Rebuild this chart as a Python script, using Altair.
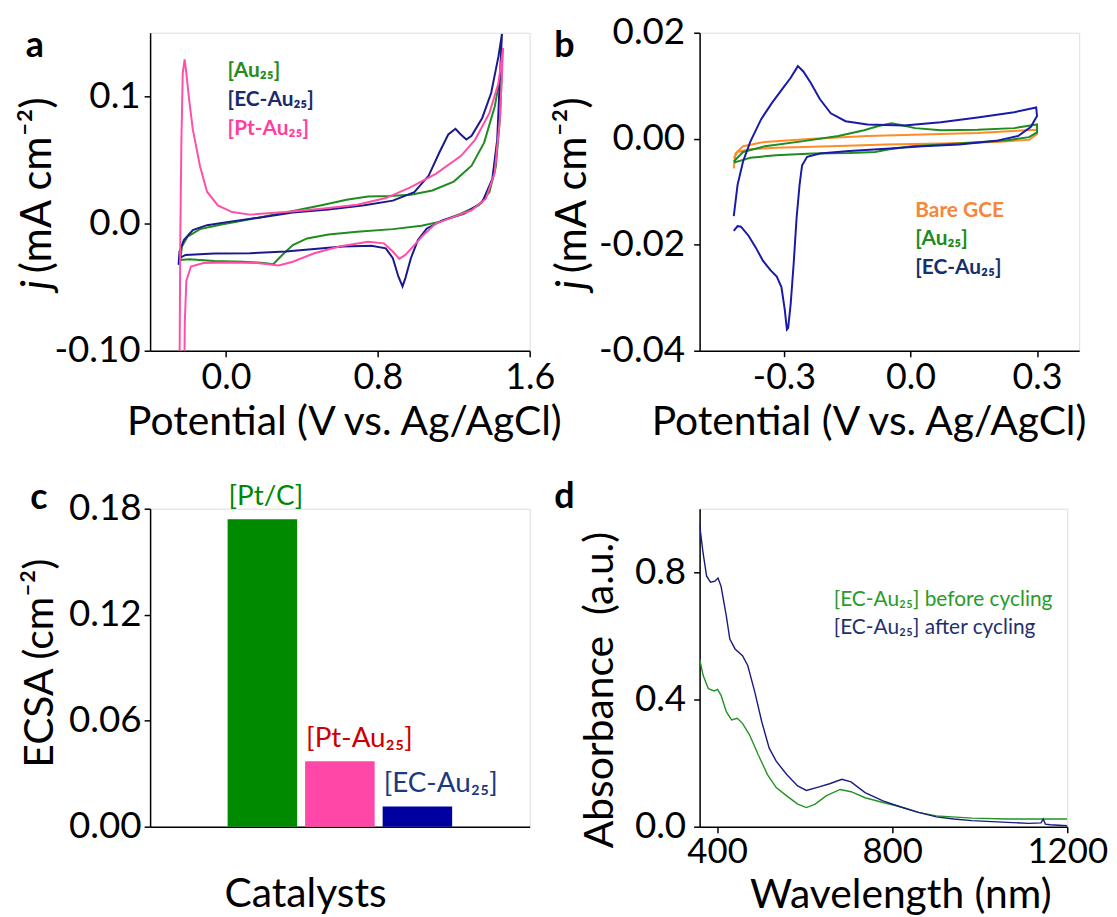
import altair as alt
import pandas as pd

FONT = "Lato"

# ---------------- Panel a : CV in wide window ----------------
a_series = ["[Au₂₅]", "[EC-Au₂₅]", "[Pt-Au₂₅]"]
a_colors = ["#1e8c1e", "#1a1a8c", "#ff4fa8"]
a_legend_colors = ["#2a8a22", "#1b2a6b", "#ff3fa0"]

a_au25_v = [-0.241, -0.232, -0.203, -0.137, -0.024, 0.126, 0.314, 0.503, 0.635, 0.748, 0.861, 0.974,
            1.087, 1.2, 1.294, 1.36, 1.416, 1.454, 1.444, 1.422, 1.388, 1.331, 1.237, 1.124, 1.03,
            0.879, 0.691, 0.54, 0.427, 0.352, 0.296, 0.249, 0.2, 0.089, -0.062, -0.194, -0.241]
a_au25_j = [-0.0286, -0.018, -0.0104, -0.0044, -0.0008, 0.0034, 0.0086, 0.0143, 0.0187, 0.0213, 0.0216,
            0.0226, 0.026, 0.033, 0.0455, 0.0636, 0.092, 0.123, 0.084, 0.045, 0.0247, 0.0143, 0.0078,
            0.0013, -0.0018, -0.0044, -0.0065, -0.0086, -0.0117, -0.0169, -0.0247, -0.032, -0.031,
            -0.030, -0.0294, -0.028, -0.0286]

a_ec_v = [-0.25, -0.245, -0.222, -0.175, -0.1, 0.013, 0.164, 0.352, 0.54, 0.729, 0.879, 0.992, 1.068,
          1.124, 1.171, 1.209, 1.237, 1.266, 1.294, 1.35, 1.397, 1.435, 1.454, 1.444, 1.429, 1.403,
          1.35, 1.256, 1.143, 1.058, 1.011, 0.974, 0.945, 0.93, 0.908, 0.879, 0.842, 0.766, 0.616,
          0.465, 0.314, 0.126, -0.062, -0.213, -0.241, -0.25]
a_ec_j = [-0.0325, -0.022, -0.013, -0.0052, -0.0013, 0.0013, 0.0044, 0.0086, 0.011, 0.0143, 0.018,
          0.0247, 0.0377, 0.0558, 0.070, 0.0745, 0.070, 0.066, 0.069, 0.083, 0.1026, 0.131, 0.149,
          0.118, 0.066, 0.035, 0.0169, 0.0078, 0.0026, -0.0039, -0.013, -0.0273, -0.0429, -0.0494,
          -0.0416, -0.0273, -0.0195, -0.0174, -0.018, -0.020, -0.022, -0.0234, -0.0236, -0.0247,
          -0.0268, -0.030]

a_pt_v = [-0.245, -0.241, -0.235, -0.228, -0.218, -0.209, -0.194, -0.175, -0.137, -0.1, -0.043, 0.032,
          0.126, 0.314, 0.503, 0.691, 0.842, 0.974, 1.105, 1.237, 1.313, 1.388, 1.435, 1.46, 1.444,
          1.416, 1.369, 1.294, 1.2, 1.105, 1.04, 0.992, 0.945, 0.913, 0.879, 0.832, 0.748, 0.597,
          0.465, 0.352, 0.277, 0.164, 0.013, -0.119, -0.185, -0.209, -0.217, -0.22]
a_pt_j = [-0.12, -0.012, 0.066, 0.118, 0.129, 0.118, 0.097, 0.074, 0.045, 0.025, 0.0143, 0.009,
          0.007, 0.009, 0.0117, 0.0148, 0.020, 0.0286, 0.039, 0.053, 0.066, 0.087, 0.110, 0.138,
          0.084, 0.040, 0.0195, 0.0104, 0.0052, 0.0, -0.009, -0.017, -0.0247, -0.0278, -0.022,
          -0.0156, -0.0143, -0.018, -0.0234, -0.030, -0.033, -0.031, -0.0307, -0.031, -0.0338,
          -0.045, -0.077, -0.12]

# ---------------- Panel b : CV in narrow window ----------------
b_series = ["Bare GCE", "[Au₂₅]", "[EC-Au₂₅]"]
b_colors = ["#ff8c28", "#1e8c1e", "#1a1aa8"]
b_legend_colors = ["#f5873c", "#208a20", "#15306b"]

b_gce_v = [-0.419, -0.415, -0.397, -0.345, -0.232, -0.102, 0.029, 0.159, 0.3,
           0.3, 0.281, 0.203, 0.072, -0.058, -0.189, -0.319, -0.38, -0.41, -0.419]
b_gce_j = [-0.0056, -0.0028, -0.0014, -0.0006, 0.0, 0.0005, 0.0008, 0.0011, 0.0017,
           0.0009, -0.0002, -0.0006, -0.0009, -0.0011, -0.0014, -0.0017, -0.002, -0.0025, -0.0037]

b_au25_v = [-0.419, -0.397, -0.345, -0.258, -0.171, -0.11, -0.076, -0.045, -0.023, 0.011, 0.072,
            0.159, 0.246, 0.3, 0.3, 0.281, 0.229, 0.116, 0.003, -0.05, -0.084, -0.145, -0.232,
            -0.319, -0.38, -0.419]
b_au25_j = [-0.0043, -0.0025, -0.0014, -0.0005, 0.0005, 0.0016, 0.0024, 0.0029, 0.0026, 0.002,
            0.0016, 0.0017, 0.002, 0.0027, 0.0012, 0.0003, -0.0003, -0.0009, -0.0014, -0.002,
            -0.0025, -0.0027, -0.0028, -0.0031, -0.0036, -0.0045]

b_ec_v = [-0.419, -0.410, -0.397, -0.38, -0.354, -0.328, -0.302, -0.284, -0.267, -0.254, -0.237,
          -0.215, -0.189, -0.154, -0.102, -0.015, 0.072, 0.159, 0.246, 0.298, 0.3, 0.285, 0.255,
          0.203, 0.116, 0.029, -0.058, -0.145, -0.215, -0.245, -0.257, -0.263, -0.27, -0.277,
          -0.284, -0.29, -0.293, -0.298, -0.306, -0.317, -0.332, -0.35, -0.367, -0.384, -0.402,
          -0.41, -0.419]
b_ec_j = [-0.0146, -0.0087, -0.0043, -0.0006, 0.0037, 0.0068, 0.0096, 0.0115, 0.0137, 0.0127,
          0.0106, 0.0075, 0.0048, 0.0033, 0.0027, 0.0025, 0.0031, 0.0040, 0.0050, 0.0059, 0.0043,
          0.0022, 0.0005, -0.0004, -0.0011, -0.0014, -0.0019, -0.0023, -0.0028, -0.0034, -0.005,
          -0.0087, -0.0149, -0.0236, -0.0311, -0.0357, -0.036, -0.0323, -0.028, -0.026, -0.0248,
          -0.023, -0.0205, -0.0183, -0.0166, -0.0165, -0.0174]

# ---------------- Panel c : ECSA bars ----------------
c_cats = ["[Pt/C]", "[Pt-Au₂₅]", "[EC-Au₂₅]"]
c_vals = [0.174, 0.037, 0.0115]
c_bar_colors = ["#008a00", "#ff47a8", "#0000a0"]
c_label_colors = ["#008800", "#cc0000", "#1a3a80"]

# ---------------- Panel d : UV-vis ----------------
d_series = ["[EC-Au₂₅] before cycling", "[EC-Au₂₅] after cycling"]
d_colors = ["#239323", "#1a1a80"]
d_legend_colors = ["#2a9a2a", "#1f3070"]

d_after_wl = [360, 368, 376, 385, 395, 402, 409, 421, 429, 441, 458, 470, 486, 502, 519, 535, 559,
              584, 604, 633, 657, 685, 706, 738, 779, 820, 860, 901, 941, 982, 1063, 1112, 1140,
              1145, 1150, 1161, 1200]
d_after_a = [0.95, 0.86, 0.788, 0.769, 0.772, 0.782, 0.756, 0.663, 0.59, 0.559, 0.538, 0.507,
             0.424, 0.33, 0.247, 0.206, 0.164, 0.128, 0.114, 0.125, 0.135, 0.149, 0.141, 0.107,
             0.081, 0.062, 0.045, 0.031, 0.024, 0.019, 0.0135, 0.0104, 0.012, 0.024, 0.008, 0.006,
             0.003]
d_before_wl = [360, 368, 380, 393, 401, 409, 421, 433, 446, 458, 474, 494, 515, 535, 559, 584, 604,
               624, 649, 681, 706, 738, 779, 820, 860, 901, 982, 1063, 1200]
d_before_a = [0.528, 0.476, 0.434, 0.427, 0.432, 0.413, 0.362, 0.336, 0.341, 0.325, 0.289, 0.226,
              0.164, 0.123, 0.097, 0.071, 0.060, 0.071, 0.097, 0.117, 0.110, 0.091, 0.076, 0.062,
              0.045, 0.034, 0.027, 0.024, 0.024]


def curves(xs, ys, names):
    rows = []
    for xv, yv, n in zip(xs, ys, names):
        for i, (p, q) in enumerate(zip(xv, yv)):
            rows.append({"x": p, "y": q, "s": n, "i": i})
    return pd.DataFrame(rows)


def txt(s, x, y, color, size, weight="normal", align="left", baseline="middle", angle=0, style="normal"):
    return alt.Chart(pd.DataFrame({"t": [s]})).mark_text(
        align=align, baseline=baseline, font=FONT, fontSize=size, fontWeight=weight,
        fontStyle=style, color=color, angle=angle
    ).encode(text="t:N", x=alt.value(x), y=alt.value(y))


AX = dict(domainColor="black", domainWidth=1.5, tickColor="black", tickWidth=1.5, tickSize=6,
          labelFont=FONT, labelColor="black", titleFont=FONT, titleFontSize=41,
          titleColor="black", titleFontWeight="normal", grid=False, labelFlush=False)

W1, W2, H = 382, 382, 320

# ---- a ----
df_a = curves([a_au25_v, a_ec_v, a_pt_v], [a_au25_j, a_ec_j, a_pt_j], a_series)
lines_a = alt.Chart(df_a).mark_line(strokeWidth=2, clip=True).encode(
    x=alt.X("x:Q", scale=alt.Scale(domain=[-0.4, 1.6], nice=False, zero=False),
            axis=alt.Axis(values=[0, 0.8, 1.6], format=".1f", labelPadding=4, labelFontSize=36,
                          title="Potential (V vs. Ag/AgCl)", titleX=195, titleY=84,
                          titleBaseline="alphabetic", titleAlign="center", **AX)),
    y=alt.Y("y:Q", scale=alt.Scale(domain=[-0.1, 0.15], nice=False, zero=False),
            axis=alt.Axis(values=[-0.1, 0, 0.1], labelPadding=4, title=None, labelFontSize=37,
                          labelExpr="datum.value < -0.05 ? '-0.10' : format(datum.value, '.1f')", **AX)),
    color=alt.Color("s:N", scale=alt.Scale(domain=a_series, range=a_colors), legend=None),
    order=alt.Order("i:Q"),
)
layers_a = [lines_a]
for k, (s, col) in enumerate(zip(a_series, a_legend_colors)):
    layers_a.append(txt(s, 78, 39 + 29 * k, col, 21, weight="bold"))
layers_a.append(txt("(mA cm⁻²)", -113, 242, "black", 42, align="left", angle=270))
layers_a.append(txt("j", -113, 249, "black", 42, align="right", angle=270, style="italic"))
layers_a.append(txt("a", -116, 24, "black", 36, weight="bold", align="center", baseline="alphabetic"))
panel_a = alt.layer(*layers_a).properties(width=W1, height=H)

# ---- b ----
df_b = curves([b_gce_v, b_au25_v, b_ec_v], [b_gce_j, b_au25_j, b_ec_j], b_series)
lines_b = alt.Chart(df_b).mark_line(strokeWidth=2, clip=True).encode(
    x=alt.X("x:Q", scale=alt.Scale(domain=[-0.5, 0.4], nice=False, zero=False),
            axis=alt.Axis(values=[-0.3, 0, 0.3], labelPadding=4, labelFontSize=36,
                          labelExpr="(datum.value < 0 ? '-' : '') + format(abs(datum.value), '.1f')",
                          title="Potential (V vs. Ag/AgCl)", titleX=170, titleY=84,
                          titleBaseline="alphabetic", titleAlign="center", **AX)),
    y=alt.Y("y:Q", scale=alt.Scale(domain=[-0.04, 0.02], nice=False, zero=False),
            axis=alt.Axis(values=[-0.04, -0.02, 0, 0.02], labelPadding=9, title=None, labelFontSize=37,
                          labelExpr="(datum.value < 0 ? '-' : '') + format(abs(datum.value), '.2f')", **AX)),
    color=alt.Color("s:N", scale=alt.Scale(domain=b_series, range=b_colors), legend=None),
    order=alt.Order("i:Q"),
)
layers_b = [lines_b]
for k, (s, col) in enumerate(zip(b_series, b_legend_colors)):
    layers_b.append(txt(s, 217, 179 + 29 * k, col, 21, weight="bold"))
layers_b.append(txt("(mA cm⁻²)", -127, 242, "black", 42, align="left", angle=270))
layers_b.append(txt("j", -127, 249, "black", 42, align="right", angle=270, style="italic"))
layers_b.append(txt("b", -136, 24, "black", 36, weight="bold", align="center", baseline="alphabetic"))
panel_b = alt.layer(*layers_b).properties(width=W2, height=H)

# ---- c ----
df_c = pd.DataFrame({"cat": c_cats, "val": c_vals})
xc = alt.X("cat:N", sort=c_cats,
           scale=alt.Scale(paddingInner=0.103, paddingOuter=1.0),
           axis=alt.Axis(labels=False, ticks=False, title="Catalysts", titleX=156, titleY=80,
                         titleBaseline="alphabetic", titleAlign="center", **AX))
bars_c = alt.Chart(df_c).mark_bar().encode(
    x=xc,
    y=alt.Y("val:Q", scale=alt.Scale(domain=[0, 0.18], nice=False),
            axis=alt.Axis(values=[0, 0.06, 0.12, 0.18], format=".2f", labelPadding=3, labelFontSize=37,
                          title="ECSA (cm⁻²)", titleX=-110, titleY=155, titleAngle=270,
                          titleBaseline="middle", titleAlign="center", **AX)),
    color=alt.Color("cat:N", scale=alt.Scale(domain=c_cats, range=c_bar_colors), legend=None),
)
labels_c = alt.Chart(df_c).mark_text(align="left", baseline="alphabetic", dx=1, dy=-14,
                                     font=FONT, fontSize=28).encode(
    x=alt.X("cat:N", sort=c_cats, bandPosition=0),
    y="val:Q",
    text="cat:N",
    color=alt.Color("cat:N", scale=alt.Scale(domain=c_cats, range=c_label_colors), legend=None),
)
panel_c = alt.layer(bars_c, labels_c,
                    txt("c", -112, 0, "black", 36, weight="bold", align="center", baseline="alphabetic")
                    ).resolve_scale(color="independent").properties(width=W1, height=H)

# ---- d ----
df_d = curves([d_before_wl, d_after_wl], [d_before_a, d_after_a], d_series)
lines_d = alt.Chart(df_d).mark_line(strokeWidth=1.4, clip=True).encode(
    x=alt.X("x:Q", scale=alt.Scale(domain=[360, 1200], nice=False, zero=False),
            axis=alt.Axis(values=[400, 800, 1200], format="d", labelPadding=2, labelFontSize=35,
                          title="Wavelength (nm)", titleX=202, titleY=81,
                          titleBaseline="alphabetic", titleAlign="center", **AX)),
    y=alt.Y("y:Q", scale=alt.Scale(domain=[0, 1.0], nice=False),
            axis=alt.Axis(values=[0, 0.4, 0.8], format=".1f", labelPadding=8, labelFontSize=37,
                          title="Absorbance \u00a0(a.u.)", titleX=-100, titleY=182, titleAngle=270,
                          titleBaseline="middle", titleAlign="center", **AX)),
    color=alt.Color("s:N", scale=alt.Scale(domain=d_series, range=d_colors), legend=None),
    order=alt.Order("i:Q"),
)
layers_d = [lines_d]
for k, (s, col) in enumerate(zip(d_series, d_legend_colors)):
    layers_d.append(txt(s, 135, 92 + 28 * k, col, 21))
layers_d.append(txt("d", -136, -1, "black", 36, weight="bold", align="center", baseline="alphabetic"))
panel_d = alt.layer(*layers_d).properties(width=370, height=H)

chart = alt.concat(panel_a, panel_b, panel_c, panel_d, columns=2,
                   spacing={"row": 159, "column": 171}, bounds="flush").resolve_scale(
    color="independent"
).properties(
    padding={"left": 8, "top": 2, "right": 0, "bottom": 0}
).configure_view(stroke=None).configure(font=FONT)

chart.save("out.html", embed_options={"renderer": "svg", "actions": False})
